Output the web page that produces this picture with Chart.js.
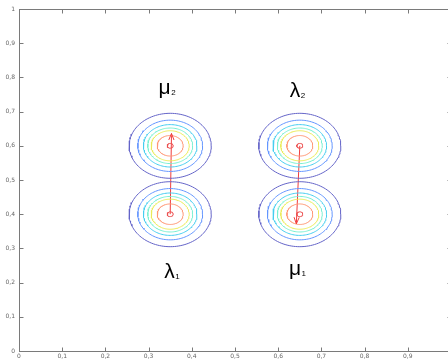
<!DOCTYPE html>
<html>
<head>
<meta charset="utf-8">
<script src="https://cdn.jsdelivr.net/npm/chart.js@4/dist/chart.umd.min.js"></script>
<style>
  html, body { margin: 0; padding: 0; background: #fff; overflow: hidden; }
  #wrap { position: absolute; left: 0; top: 0; width: 460px; height: 360px; }
</style>
</head>
<body>
<div id="wrap"><canvas id="c"></canvas></div>
<script>
// Mixture components: centres of the four Gaussian blobs
const centersX = [0.35, 0.35, 0.65, 0.65];
const centersY = [0.4, 0.6, 0.4, 0.6];

// Contour rings (radius in data units), outermost first, jet-like colours
const ringRadii  = [0.095, 0.075, 0.062, 0.052, 0.044, 0.030, 0.007];
const ringColors = ['#6464c8', '#6496ff', '#46cdf0', '#78f0d2', '#ebeb5a', '#ff9673', '#eb5050'];

// Arrows between the components (from -> to)
const arrowFromX = [0.350, 0.650];
const arrowFromY = [0.400, 0.600];
const arrowToX   = [0.353, 0.642];
const arrowToY   = [0.636, 0.372];

// Component labels (letter + subscript) and their anchor (left, baseline)
const labelGlyphs = ['\u03BC', '\u03BB', '\u03BB', '\u03BC'];
const labelSubs   = ['2', '2', '1', '1'];
const labelX      = [0.323, 0.627, 0.336, 0.625];
const labelY      = [0.752, 0.742, 0.214, 0.222];

// Axis ticks
const tickStep = 0.1;
const axisMin = 0, axisMax = 1;

const axisColor = '#7a7a7a';
const fmt = v => String(Math.round(v * 10) / 10).replace('.', ',');

function ring(cx, cy, r) {
  const pts = [];
  const n = 120;
  for (let i = 0; i <= n; i++) {
    const t = (i / n) * Math.PI * 2;
    pts.push({ x: cx + r * Math.cos(t), y: cy + r * Math.sin(t) });
  }
  return pts;
}

const datasets = [];
centersX.forEach((cx, k) => {
  ringRadii.forEach((r, j) => {
    datasets.push({
      data: ring(cx, centersY[k], r),
      showLine: true, borderColor: ringColors[j], borderWidth: 1,
      pointRadius: 0, fill: false, tension: 0
    });
  });
});
arrowFromX.forEach((x0, k) => {
  datasets.push({
    data: [{ x: x0, y: arrowFromY[k] }, { x: arrowToX[k], y: arrowToY[k] }],
    showLine: true, borderColor: '#f03c3c', borderWidth: 1,
    pointRadius: 0, fill: false, arrow: true
  });
});

// Box frame with inward tick marks on all four sides
const framePlugin = {
  id: 'frame',
  afterDraw(chart) {
    const { ctx, chartArea: a, scales: { x, y } } = chart;
    ctx.save();
    ctx.strokeStyle = axisColor;
    ctx.lineWidth = 1;
    const L = Math.round(a.left) + 0.5, R = Math.round(a.right) + 0.5;
    const T = Math.round(a.top) + 0.5, B = Math.round(a.bottom) + 0.5;
    ctx.strokeRect(L, T, R - L, B - T);
    const len = 4;
    ctx.beginPath();
    x.ticks.forEach(t => {
      const px = Math.round(x.getPixelForValue(t.value)) + 0.5;
      ctx.moveTo(px, B); ctx.lineTo(px, B - len);
      ctx.moveTo(px, T); ctx.lineTo(px, T + len);
    });
    y.ticks.forEach(t => {
      const py = Math.round(y.getPixelForValue(t.value)) + 0.5;
      ctx.moveTo(L, py); ctx.lineTo(L + len, py);
      ctx.moveTo(R, py); ctx.lineTo(R - len, py);
    });
    ctx.stroke();
    ctx.restore();
  }
};

// Open arrowheads at the end of the arrow datasets
const arrowPlugin = {
  id: 'arrowheads',
  afterDatasetsDraw(chart) {
    const { ctx } = chart;
    ctx.save();
    chart.data.datasets.forEach((ds, i) => {
      if (!ds.arrow) return;
      const pts = chart.getDatasetMeta(i).data;
      const p0 = pts[0], p1 = pts[1];
      const ang = Math.atan2(p1.y - p0.y, p1.x - p0.x);
      const head = 7, spread = 0.38;
      ctx.strokeStyle = ds.borderColor;
      ctx.lineWidth = 1;
      ctx.beginPath();
      ctx.moveTo(p1.x - head * Math.cos(ang - spread), p1.y - head * Math.sin(ang - spread));
      ctx.lineTo(p1.x, p1.y);
      ctx.lineTo(p1.x - head * Math.cos(ang + spread), p1.y - head * Math.sin(ang + spread));
      ctx.stroke();
    });
    ctx.restore();
  }
};

// Greek component labels with subscripts
const labelPlugin = {
  id: 'labels',
  afterDatasetsDraw(chart) {
    const { ctx, scales: { x, y } } = chart;
    ctx.save();
    ctx.fillStyle = '#000';
    ctx.textAlign = 'left';
    ctx.textBaseline = 'alphabetic';
    labelGlyphs.forEach((g, k) => {
      const px = x.getPixelForValue(labelX[k]);
      const py = y.getPixelForValue(labelY[k]);
      ctx.font = '21px "Liberation Sans", Arial, sans-serif';
      ctx.fillText(g, px, py);
      const w = ctx.measureText(g).width;
      ctx.font = '8px "Liberation Sans", Arial, sans-serif';
      ctx.fillText(labelSubs[k], px + w + 0.5, py + 1);
    });
    ctx.restore();
  }
};

new Chart(document.getElementById('c'), {
  type: 'scatter',
  data: { datasets },
  options: {
    responsive: true,
    maintainAspectRatio: false,
    animation: false,
    layout: { padding: { top: 9, right: 9, left: 0, bottom: 0 } },
    plugins: { legend: { display: false }, tooltip: { enabled: false } },
    scales: {
      x: {
        type: 'linear', min: axisMin, max: axisMax,
        grid: { display: false, drawTicks: false },
        border: { display: false },
        ticks: { stepSize: tickStep, padding: 2, color: '#666',
                 font: { size: 6, family: 'DejaVu Sans' }, maxRotation: 0,
                 callback: v => fmt(v) },
        afterFit: s => { s.height = 9; }
      },
      y: {
        type: 'linear', min: axisMin, max: axisMax,
        grid: { display: false, drawTicks: false },
        border: { display: false },
        ticks: { stepSize: tickStep, padding: 4, color: '#666',
                 font: { size: 6, family: 'DejaVu Sans' },
                 callback: v => fmt(v) },
        afterFit: s => { s.width = 19; }
      }
    }
  },
  plugins: [framePlugin, arrowPlugin, labelPlugin]
});
</script>
</body>
</html>
